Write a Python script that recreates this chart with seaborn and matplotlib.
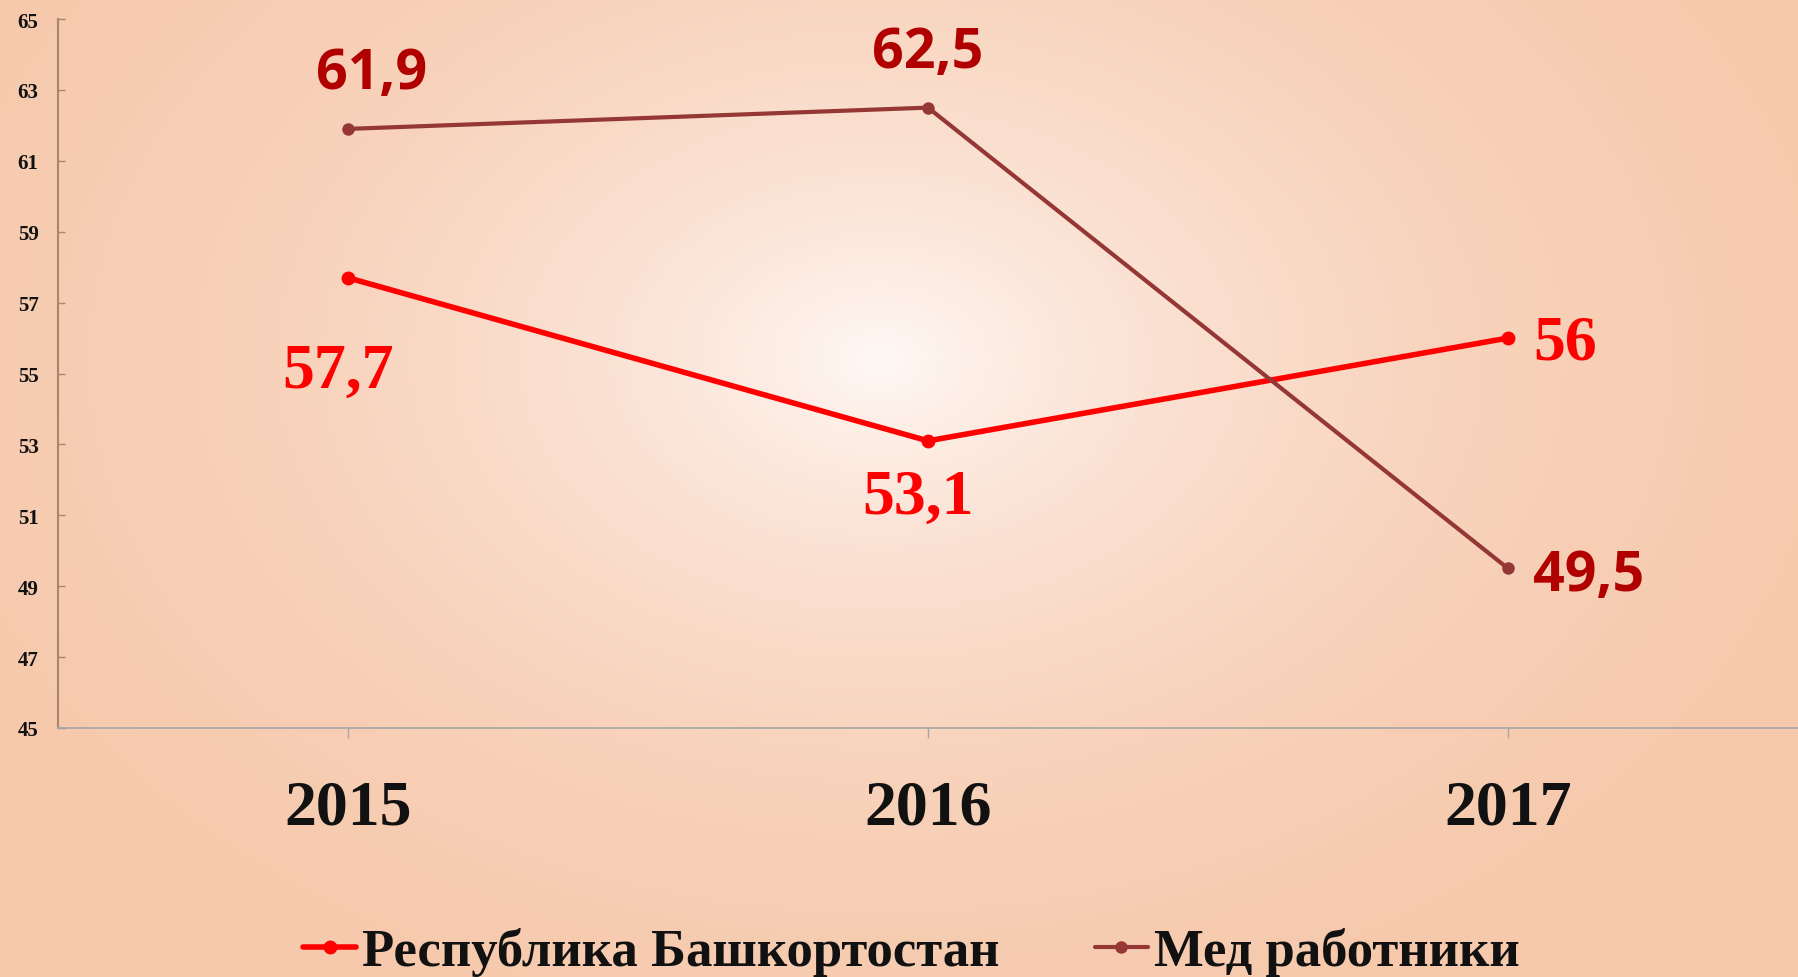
import numpy as np
import pandas as pd
import matplotlib
matplotlib.use("Agg")
import matplotlib.pyplot as plt
import seaborn as sns
from matplotlib.colors import LinearSegmentedColormap

years = [2015, 2016, 2017]
series_names = ["Республика Башкортостан", "Мед работники"]
rb_values = [57.7, 53.1, 56.0]
med_values = [61.9, 62.5, 49.5]
rb_labels = ["57,7", "53,1", "56"]
med_labels = ["61,9", "62,5", "49,5"]
y_ticks = list(range(45, 66, 2))

df = pd.DataFrame({
    "year": years * 2,
    "value": rb_values + med_values,
    "series": [series_names[0]] * 3 + [series_names[1]] * 3,
})

sns.set_theme(style="white")
plt.rcParams["font.family"] = ["Liberation Serif", "DejaVu Serif"]

W, H = 1798, 978
fig = plt.figure(figsize=(W / 100, H / 100), dpi=100)

# background radial gradient
bg = fig.add_axes([0, 0, 1, 1], zorder=-10)
yy, xx = np.mgrid[0:H, 0:W]
cx, cy = 880, 360
d = np.sqrt(((xx - cx) / 1000.0) ** 2 + ((yy - cy) / 700.0) ** 2)
d = np.clip(d, 0, 1) ** 0.8
cmap = LinearSegmentedColormap.from_list("bgc", ["#FFF9F6", "#FBE3D5", "#F8D2BA", "#F6C9AC"])
bg.imshow(d, cmap=cmap, vmin=0, vmax=1, aspect="auto", interpolation="bilinear")
bg.set_axis_off()

ax = fig.add_axes([58 / W, 1 - 729 / H, 1 - 58 / W, (729 - 20) / H])
ax.set_facecolor("none")

colors = {series_names[0]: "#FF0000", series_names[1]: "#953735"}
widths = {series_names[0]: 4.0, series_names[1]: 3.0}
msizes = {series_names[0]: 10, series_names[1]: 9}
for name in series_names:
    sub = df[df["series"] == name]
    sns.lineplot(data=sub, x="year", y="value", ax=ax, color=colors[name],
                 linewidth=widths[name], marker="o", markersize=msizes[name],
                 markeredgewidth=0, label=name, legend=False)

ax.set_xlim(years[0] - 0.5, years[-1] + 0.5)
ax.set_ylim(45, 65)
ax.set_yticks(y_ticks)
ax.set_xticks(years)
ax.set_xticklabels([str(y) for y in years])
ax.set_xlabel("")
ax.set_ylabel("")

for s in ["top", "right"]:
    ax.spines[s].set_visible(False)
ax.spines["left"].set_color("#A5866E")
ax.spines["left"].set_linewidth(1.5)
ax.spines["bottom"].set_color("#A6A6A6")
ax.spines["bottom"].set_linewidth(1.2)

ax.tick_params(axis="y", direction="in", length=5, width=1, color="#A5866E",
               pad=14, labelsize=15, left=True)
ax.tick_params(axis="x", direction="out", length=7, width=1, color="#A6A6A6",
               pad=30, labelsize=46, bottom=True)
for lab in ax.get_yticklabels():
    lab.set_fontweight("bold")
    lab.set_color("#111111")
for lab in ax.get_xticklabels():
    lab.set_fontweight("bold")
    lab.set_color("#111111")

# data labels
rb_offsets = [(-7, -68), (-7, -41), (18, -4)]
rb_ha = ["center", "center", "left"]
med_offsets = [(17, 40), (0, 40), (18, -5)]
med_ha = ["center", "center", "left"]
for x, v, t, off, ha in zip(years, rb_values, rb_labels, rb_offsets, rb_ha):
    ax.annotate(t, (x, v), xytext=off, textcoords="offset points", ha=ha, va="center",
                fontsize=46, fontweight="bold", color="#FF0000",
                family=["Liberation Serif"])
for x, v, t, off, ha in zip(years, med_values, med_labels, med_offsets, med_ha):
    ax.annotate(t, (x, v), xytext=off, textcoords="offset points", ha=ha, va="center",
                fontsize=40, fontweight="bold", color="#B00000",
                family=["Open Sans", "DejaVu Sans"])

handles, labels = ax.get_legend_handles_labels()
leg = fig.legend(handles, labels, loc="center", bbox_to_anchor=(0.507, 0.026),
                 ncol=2, frameon=False, handlelength=1.0, handletextpad=0.12,
                 columnspacing=1.8, prop={"family": "Liberation Serif", "weight": "bold", "size": 38})
for t in leg.get_texts():
    t.set_color("#111111")

fig.savefig("out.png", dpi=100)
